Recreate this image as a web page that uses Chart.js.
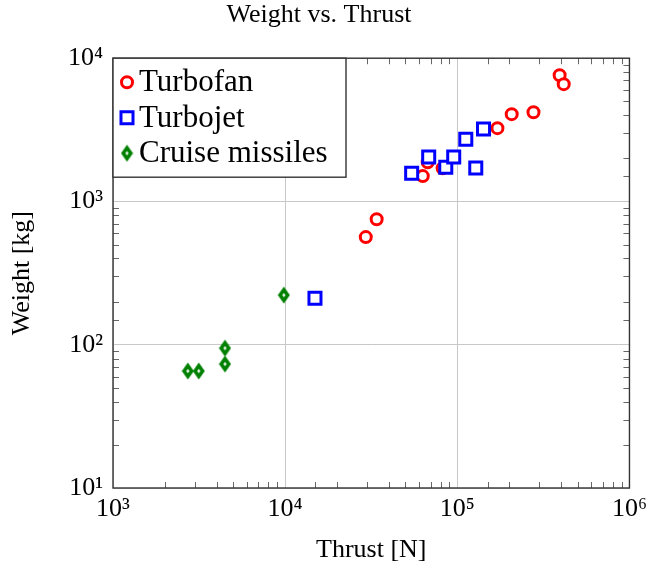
<!DOCTYPE html>
<html>
<head>
<meta charset="utf-8">
<script src="https://cdn.jsdelivr.net/npm/chart.js@4/dist/chart.umd.min.js"></script>
<style>
  html, body { margin: 0; padding: 0; background: #fff; }
  #wrap { width: 653px; height: 576px; }
</style>
</head>
<body>
<div id="wrap"><canvas id="chart"></canvas></div>
<script>
// values
const turbofanThrust = [29400, 34000, 63000, 67300, 82200, 171000, 207000, 277000, 393000, 415000];
const turbofanWeight = [564, 751, 1503, 1880, 1707, 3250, 4070, 4200, 7610, 6590];

const turbojetThrust = [14900, 54300, 68200, 85700, 95300, 112000, 128000, 142000];
const turbojetWeight = [211, 1575, 2040, 1730, 2040, 2720, 1710, 3200];

const missileThrust = [2720, 3150, 4470, 4470, 9830];
const missileWeight = [65.5, 65.5, 73.3, 94.6, 222];

const seriesNames = ['Turbofan', 'Turbojet', 'Cruise missiles'];

const FONT = "'Liberation Serif', 'DejaVu Serif', serif";
const SUP = {'0':'⁰','1':'¹','2':'²','3':'³','4':'⁴','5':'⁵','6':'⁶','7':'⁷','8':'⁸','9':'⁹','-':'⁻'};

function isDecade(v) {
    const e = Math.log10(v);
    return Math.abs(e - Math.round(e)) < 1e-9;
}
function powLabel(v) {
    if (!isDecade(v)) return '';
    return '10' + String(Math.round(Math.log10(v))).split('').map(c => SUP[c]).join('');
}
function toPoints(xs, ys) {
    return xs.map((x, i) => ({x: x, y: ys[i]}));
}

// green diamond marker (taller than wide, solid with a small hole)
function makeDiamond() {
    const cv = document.createElement('canvas');
    const w = 13, h = 18;
    cv.width = w;
    cv.height = h;
    const d = cv.getContext('2d');
    d.beginPath();
    d.moveTo(w / 2, 0.5);
    d.lineTo(w - 0.5, h / 2);
    d.lineTo(w / 2, h - 0.5);
    d.lineTo(0.5, h / 2);
    d.closePath();
    d.fillStyle = '#008000';
    d.fill();
    d.beginPath();
    d.moveTo(w / 2, h / 2 - 2.2);
    d.lineTo(w / 2 + 1.5, h / 2);
    d.lineTo(w / 2, h / 2 + 2.2);
    d.lineTo(w / 2 - 1.5, h / 2);
    d.closePath();
    d.fillStyle = '#fff';
    d.fill();
    return cv;
}
const diamond = makeDiamond();

const styles = [
    {pointStyle: 'circle', radius: 5.5, borderWidth: 3, borderColor: '#ff0000', backgroundColor: '#fff'},
    {pointStyle: 'rect', radius: 8.5, borderWidth: 3, borderColor: '#0000ff', backgroundColor: '#fff'},
    {pointStyle: diamond, radius: 7, borderWidth: 0, borderColor: '#008000', backgroundColor: '#008000'}
];

// minor ticks inside the frame, plus the frame itself
const frame = {
    id: 'frame',
    afterDatasetsDraw(chart) {
        const c = chart.ctx;
        const a = chart.chartArea;
        const xs = chart.scales.x, ys = chart.scales.y;
        const len = 6;
        c.save();
        c.strokeStyle = '#666';
        c.lineWidth = 1;
        c.beginPath();
        xs.ticks.forEach(t => {
            if (isDecade(t.value)) return;
            const px = Math.round(xs.getPixelForValue(t.value)) + 0.5;
            c.moveTo(px, a.bottom); c.lineTo(px, a.bottom - len);
            c.moveTo(px, a.top); c.lineTo(px, a.top + len);
        });
        ys.ticks.forEach(t => {
            if (isDecade(t.value)) return;
            const py = Math.round(ys.getPixelForValue(t.value)) + 0.5;
            c.moveTo(a.left, py); c.lineTo(a.left + len, py);
            c.moveTo(a.right, py); c.lineTo(a.right - len, py);
        });
        c.stroke();
        c.strokeStyle = '#333';
        c.lineWidth = 1.4;
        c.strokeRect(a.left, a.top, a.right - a.left, a.bottom - a.top);
        c.restore();
    },
    afterDraw(chart) {
        // legend box in the upper left corner of the plot
        const c = chart.ctx;
        const a = chart.chartArea;
        const w = 233, h = 119;
        c.save();
        c.fillStyle = '#fff';
        c.fillRect(a.left, a.top, w, h);
        c.strokeStyle = '#333';
        c.lineWidth = 1.4;
        c.strokeRect(a.left, a.top, w, h);
        c.font = '31px ' + FONT;
        c.textBaseline = 'middle';
        chart.data.datasets.forEach((ds, i) => {
            const y = a.top + 24 + i * 35.5;
            const s = styles[i];
            c.fillStyle = s.backgroundColor;
            c.strokeStyle = s.borderColor;
            c.lineWidth = s.borderWidth;
            Chart.helpers.drawPoint(c, {pointStyle: s.pointStyle, radius: s.radius, rotation: 0, borderWidth: s.borderWidth}, a.left + 14, y);
            c.fillStyle = '#000';
            c.fillText(ds.label, a.left + 26, y + 1);
        });
        c.restore();
    }
};

Chart.defaults.color = '#000';
Chart.defaults.font.family = FONT;

const config = {
    type: 'scatter',
    data: {
        datasets: [
            {label: seriesNames[0], data: toPoints(turbofanThrust, turbofanWeight), order: 3},
            {label: seriesNames[1], data: toPoints(turbojetThrust, turbojetWeight), order: 2},
            {label: seriesNames[2], data: toPoints(missileThrust, missileWeight), order: 1}
        ].map((ds, i) => Object.assign(ds, {
            pointStyle: styles[i].pointStyle,
            pointRadius: styles[i].radius,
            pointHoverRadius: styles[i].radius,
            pointBorderWidth: styles[i].borderWidth,
            pointBorderColor: styles[i].borderColor,
            pointBackgroundColor: styles[i].backgroundColor,
            borderColor: styles[i].borderColor,
            backgroundColor: styles[i].backgroundColor
        }))
    },
    options: {
        responsive: true,
        maintainAspectRatio: false,
        animation: false,
        layout: {
            padding: {left: 7, right: 22, top: 0, bottom: 10}
        },
        plugins: {
            legend: {display: false},
            tooltip: {enabled: false},
            title: {
                display: true,
                text: 'Weight vs. Thrust',
                font: {size: 26, weight: 'normal'},
                padding: {top: 0, bottom: 27}
            }
        },
        scales: {
            x: {
                type: 'logarithmic',
                min: 1e3,
                max: 1e6,
                afterFit: s => { s.height = 78; },
                border: {display: false},
                grid: {
                    drawTicks: false,
                    color: c => isDecade(c.tick.value) ? '#c8c8c8' : 'rgba(0,0,0,0)'
                },
                ticks: {
                    autoSkip: false,
                    maxRotation: 0,
                    padding: 6,
                    font: {size: 26},
                    callback: v => powLabel(v)
                },
                title: {
                    display: true,
                    text: 'Thrust [N]',
                    font: {size: 26},
                    padding: {top: 4, bottom: 0}
                }
            },
            y: {
                type: 'logarithmic',
                min: 10,
                max: 1e4,
                afterFit: s => { s.width = 106; },
                border: {display: false},
                grid: {
                    drawTicks: false,
                    color: c => isDecade(c.tick.value) ? '#c8c8c8' : 'rgba(0,0,0,0)'
                },
                ticks: {
                    autoSkip: false,
                    padding: 10,
                    font: {size: 26},
                    callback: v => powLabel(v)
                },
                title: {
                    display: true,
                    text: 'Weight [kg]',
                    font: {size: 26},
                    padding: {top: 0, bottom: 0}
                }
            }
        }
    },
    plugins: [frame]
};

const chart = new Chart(document.getElementById('chart'), config);
</script>
</body>
</html>
